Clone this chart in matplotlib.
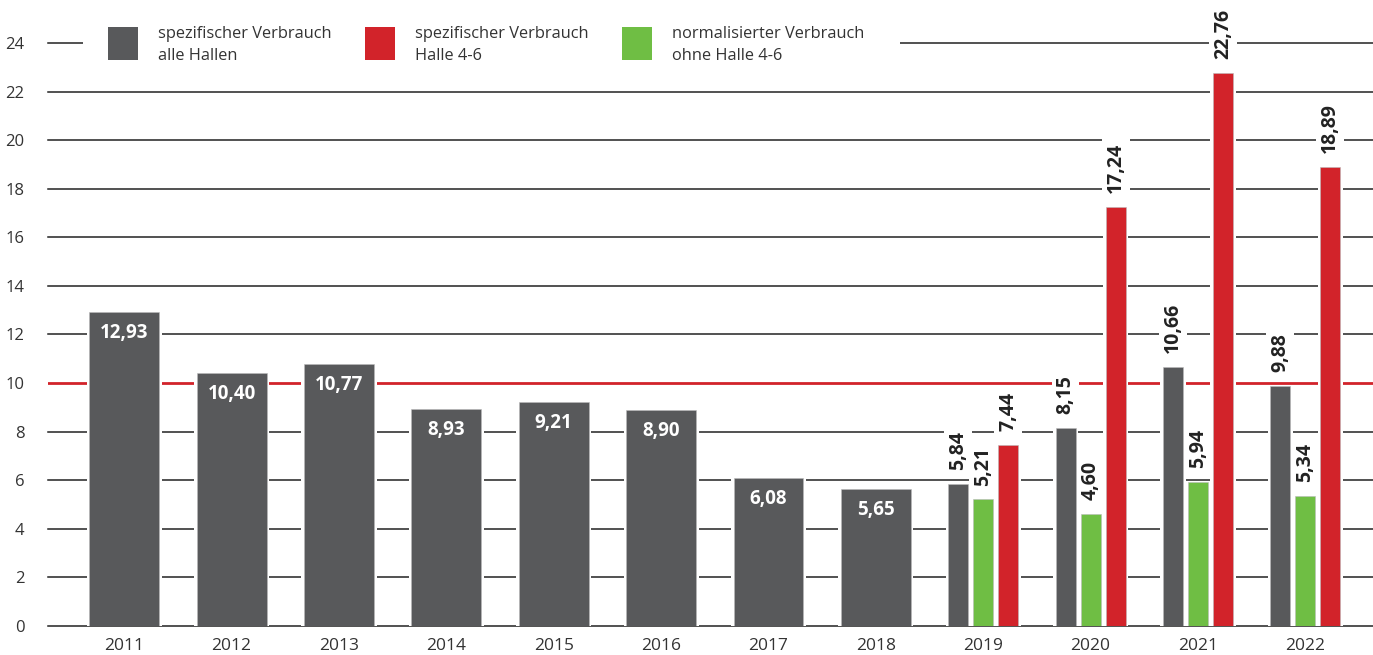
import numpy as np
import matplotlib.pyplot as plt
from matplotlib.patches import Rectangle

plt.rcParams['font.family'] = ['Open Sans', 'DejaVu Sans']

years = ['2011', '2012', '2013', '2014', '2015', '2016',
         '2017', '2018', '2019', '2020', '2021', '2022']
alle_hallen = [12.93, 10.40, 10.77, 8.93, 9.21, 8.90, 6.08, 5.65, 5.84, 8.15, 10.66, 9.88]
halle_46 = [7.44, 17.24, 22.76, 18.89]          # 2019-2022
ohne_halle_46 = [5.21, 4.60, 5.94, 5.34]         # 2019-2022

legend_labels = ['spezifischer Verbrauch\nalle Hallen',
                 'spezifischer Verbrauch\nHalle 4-6',
                 'normalisierter Verbrauch\nohne Halle 4-6']

grau = '#58595b'
rot = '#d2232a'
gruen = '#6fbe44'

W, H = 1373, 655
fig = plt.figure(figsize=(W / 100, H / 100), dpi=100)
ax = fig.add_axes([48 / W, 29 / H, 1325 / W, 626 / H])
ax.set_xlim(-0.71, 11.63)
ax.set_ylim(0, 25.77)

for s in ax.spines.values():
    s.set_visible(False)
ax.tick_params(length=0)
ax.set_yticks(np.arange(0, 25, 2))
ax.set_yticklabels([str(v) for v in range(0, 25, 2)], fontsize=12, color='#333333')
ax.tick_params(axis='y', pad=17)

for v in range(0, 25, 2):
    if v == 10:
        ax.axhline(v, color=rot, lw=2.0, zorder=1)
    else:
        ax.axhline(v, color='#222222', lw=1.1, zorder=1, clip_on=False)

x = np.arange(len(years))
ax.set_xticks(x)
ax.set_xticklabels(years, fontsize=12.5, color='#333333')
ax.tick_params(axis='x', pad=9)

gap = 0.05
def bars(xs, vals, w, color):
    ax.bar(xs, vals, width=w + gap, color='white', zorder=2)
    ax.bar(xs, vals, width=w, color=color, edgecolor='#bbbbbb', lw=0.4, zorder=3)

def fmt(v):
    return f'{v:.2f}'.replace('.', ',')

# single bars 2011-2018
n1 = 8
bars(x[:n1], alle_hallen[:n1], 0.65, grau)
for xi, v in zip(x[:n1], alle_hallen[:n1]):
    ax.annotate(fmt(v), (xi, v), xytext=(0, -15), textcoords='offset points',
                ha='center', va='center', color='white', fontsize=13.5,
                fontweight='bold', zorder=5)

# grouped bars 2019-2022
bw = 0.186
step = 0.233
xg = x[n1:]
bars(xg - step, alle_hallen[n1:], bw, grau)
bars(xg, ohne_halle_46, bw, gruen)
bars(xg + step, halle_46, bw, rot)

def vlabel(xi, v):
    ax.annotate(fmt(v), (xi, v), xytext=(0, 10), textcoords='offset points',
                ha='center', va='bottom', rotation=90, color='#222222',
                fontsize=14, fontweight='bold', zorder=5,
                bbox=dict(boxstyle='square,pad=0.2', fc='white', ec='none'))

for xi, a, o, h in zip(xg, alle_hallen[n1:], ohne_halle_46, halle_46):
    vlabel(xi - step, a)
    vlabel(xi, o)
    vlabel(xi + step, h)

# legend
fig.patches.append(Rectangle((83 / W, 1 - 72 / H), (900 - 83) / W, 62 / H,
                             transform=fig.transFigure, fc='white', ec='none', zorder=10))
for lx, col, lab in zip([108, 365, 622], [grau, rot, gruen], legend_labels):
    fig.patches.append(Rectangle((lx / W, 1 - 60 / H), 30 / W, 33 / H,
                                 transform=fig.transFigure, fc=col, ec='none', zorder=11))
    fig.text((lx + 50) / W, 1 - 45 / H, lab, fontsize=11.8, color='#333333',
             va='center', ha='left', linespacing=1.55, zorder=12)

fig.savefig('out.png', dpi=100)
